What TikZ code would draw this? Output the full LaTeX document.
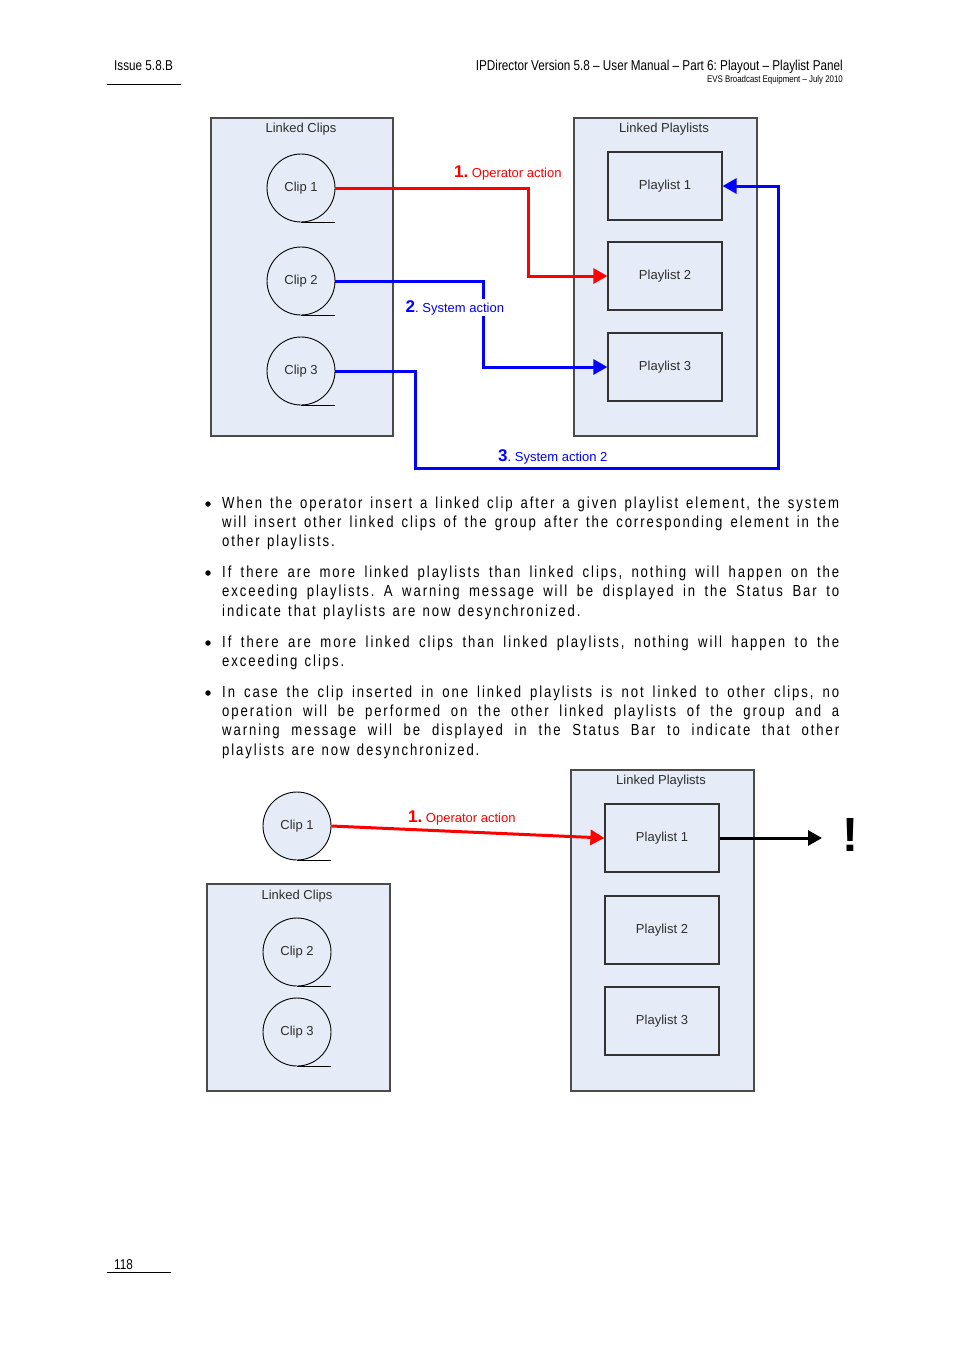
\documentclass[tikz,border=0pt]{standalone}
\usepackage{fontspec}
\setmainfont{Liberation Sans}
\newfontfamily\narrowfont[FakeStretch=0.82]{Liberation Sans}
\newfontfamily\bodyfont[FakeStretch=0.82,LetterSpace=12]{Liberation Sans}
\newfontfamily\lastfont[FakeStretch=0.82,LetterSpace=12,WordSpace=1.15]{Liberation Sans}
\usetikzlibrary{arrows.meta}
\definecolor{boxfill}{RGB}{230,236,247}
\definecolor{boxline}{RGB}{75,75,75}
\definecolor{txtgray}{RGB}{45,45,45}
\definecolor{rline}{RGB}{255,0,0}
\definecolor{bline}{RGB}{0,0,255}
\newcommand{\JustLine}[1]{\hbox to 617pt{\bodyfont\fontsize{16}{19}\selectfont #1}}
\frenchspacing
\begin{document}
\begin{tikzpicture}[x=1pt,y=-1pt,
  group/.style={draw=boxline, fill=boxfill, line width=1.5pt, anchor=north west, inner sep=0},
  gtitle/.style={font=\fontsize{13}{15}\selectfont, text=txtgray, inner sep=0},
  clipnode/.style={circle, draw=black, line width=0.9pt, fill=boxfill, minimum size=68pt, inner sep=0, font=\fontsize{13}{15}\selectfont, text=txtgray},
  tail/.style={draw=black, line width=0.9pt},
  plist/.style={draw=black!80, line width=1.2pt, fill=boxfill, minimum width=114pt, minimum height=68pt, inner sep=0, font=\fontsize{13}{15}\selectfont, text=txtgray},
  redarrow/.style={draw=rline, line width=3pt, -{Triangle[length=14pt,width=15pt]}},
  bluearrow/.style={draw=bline, line width=3pt, -{Triangle[length=14pt,width=15pt]}},
  blackarrow/.style={draw=black, line width=3pt, -{Triangle[length=14pt,width=15pt]}},
  rlabel/.style={anchor=base west, inner sep=0, text=rline, font=\fontsize{13}{15}\selectfont},
  blabel/.style={anchor=base west, inner sep=1.5pt, fill=white, text=bline, font=\fontsize{13}{15}\selectfont},
  hdr/.style={inner sep=0, font=\narrowfont\fontsize{14.3}{16}\selectfont},
  bodyline/.style={anchor=base west, inner sep=0, font=\bodyfont\fontsize{16}{19}\selectfont},
  lastline/.style={anchor=base west, inner sep=0, font=\lastfont\fontsize{16}{19}\selectfont},
  bullet/.style={circle, fill=black, inner sep=0, minimum size=5.5pt}
]
\path[use as bounding box] (0,0) rectangle (954,1350);

% ---------- header / footer ----------
\node[hdr, anchor=base west] (issue) at (114,70) {Issue 5.8.B};
\draw[line width=1pt] (107,84) -- (181,84);
\node[hdr, anchor=base east] (title) at (843,70) {IPDirector Version 5.8 – User Manual – Part 6: Playout – Playlist Panel};
\node[inner sep=0, anchor=base east, font=\narrowfont\fontsize{9.6}{11}\selectfont] (sub) at (843,82) {EVS Broadcast Equipment – July 2010};
\node[hdr, anchor=base west] (page) at (114,1269) {118};
\draw[line width=1pt] (107,1272) -- (171,1272);

% ---------- top diagram ----------
\node[group, minimum width=182pt, minimum height=318pt] (lc) at (210,117) {};
\node[gtitle] (lct) at (301,129) {Linked Clips};
\node[group, minimum width=183pt, minimum height=318pt] (lp) at (573,117) {};
\node[gtitle] (lpt) at (664,129) {Linked Playlists};

\node[clipnode] (c1) at (301,188) {Clip 1};
\node[clipnode] (c2) at (301,281) {Clip 2};
\node[clipnode] (c3) at (301,371) {Clip 3};
\draw[tail] (c1.south) -- ++(34,0);
\draw[tail] (c2.south) -- ++(34,0);
\draw[tail] (c3.south) -- ++(34,0);

\node[plist] (p1) at (665,186) {Playlist 1};
\node[plist] (p2) at (665,276) {Playlist 2};
\node[plist] (p3) at (665,367) {Playlist 3};

\coordinate (r1) at (528,188);
\coordinate (b2) at (483,281);
\coordinate (b3a) at (415,371);
\coordinate (b3b) at (778,468);

\draw[redarrow] (c1.east) -- (r1) |- (p2.west);
\draw[bluearrow] (c2.east) -- (b2) |- (p3.west);
\draw[bluearrow] (c3.east) -- (b3a) |- (b3b) |- (p1.east);

\node[rlabel] (l1) at (454,177) {{\bfseries\fontsize{17}{17}\selectfont 1.} Operator action};
\node[blabel] (l2) at (404,312) {{\bfseries\fontsize{17}{17}\selectfont 2}. System action};
\node[rlabel, text=bline] (l3) at (498,461) {{\bfseries\fontsize{17}{17}\selectfont 3}. System action 2};

% ---------- body text ----------
\node[bullet] (u1) at (208,504) {};
\node[bodyline] (t1) at (222,508) {\JustLine{When the operator insert a linked clip after a given playlist element, the system}};
\node[bodyline] (t2) at (222,527) {\JustLine{will insert other linked clips of the group after the corresponding element in the}};
\node[lastline] (t3) at (222,546) {other playlists.};

\node[bullet] (u2) at (208,573) {};
\node[bodyline] (t4) at (222,577) {\JustLine{If there are more linked playlists than linked clips, nothing will happen on the}};
\node[bodyline] (t5) at (222,596) {\JustLine{exceeding playlists. A warning message will be displayed in the Status Bar to}};
\node[lastline] (t6) at (222,616) {indicate that playlists are now desynchronized.};

\node[bullet] (u3) at (208,643) {};
\node[bodyline] (t7) at (222,647) {\JustLine{If there are more linked clips than linked playlists, nothing will happen to the}};
\node[lastline] (t8) at (222,666) {exceeding clips.};

\node[bullet] (u4) at (208,693) {};
\node[bodyline] (t9) at (222,697) {\JustLine{In case the clip inserted in one linked playlists is not linked to other clips, no}};
\node[bodyline] (t10) at (222,716) {\JustLine{operation will be performed on the other linked playlists of the group and a}};
\node[bodyline] (t11) at (222,735) {\JustLine{warning message will be displayed in the Status Bar to indicate that other}};
\node[lastline] (t12) at (222,755) {playlists are now desynchronized.};

% ---------- bottom diagram ----------
\node[group, minimum width=183pt, minimum height=207pt] (lc2) at (206,883) {};
\node[gtitle] (lc2t) at (297,896) {Linked Clips};
\node[group, minimum width=183pt, minimum height=321pt] (lp2) at (570,769) {};
\node[gtitle] (lp2t) at (661,781) {Linked Playlists};

\node[clipnode] (d1) at (297,826) {Clip 1};
\node[clipnode] (d2) at (297,952) {Clip 2};
\node[clipnode] (d3) at (297,1032) {Clip 3};
\draw[tail] (d1.south) -- ++(34,0);
\draw[tail] (d2.south) -- ++(34,0);
\draw[tail] (d3.south) -- ++(34,0);

\node[plist] (q1) at (662,838) {Playlist 1};
\node[plist] (q2) at (662,930) {Playlist 2};
\node[plist] (q3) at (662,1021) {Playlist 3};

\draw[redarrow] (d1.east) -- (q1.west);
\node[rlabel] (m1) at (408,822) {{\bfseries\fontsize{17}{17}\selectfont 1.} Operator action};

\coordinate (warnend) at (822,838);
\draw[blackarrow] (q1.east) -- (warnend);
\node[inner sep=0, font=\bfseries\fontsize{48}{48}\selectfont] (bang) at (850,835) {!};
\end{tikzpicture}
\end{document}
